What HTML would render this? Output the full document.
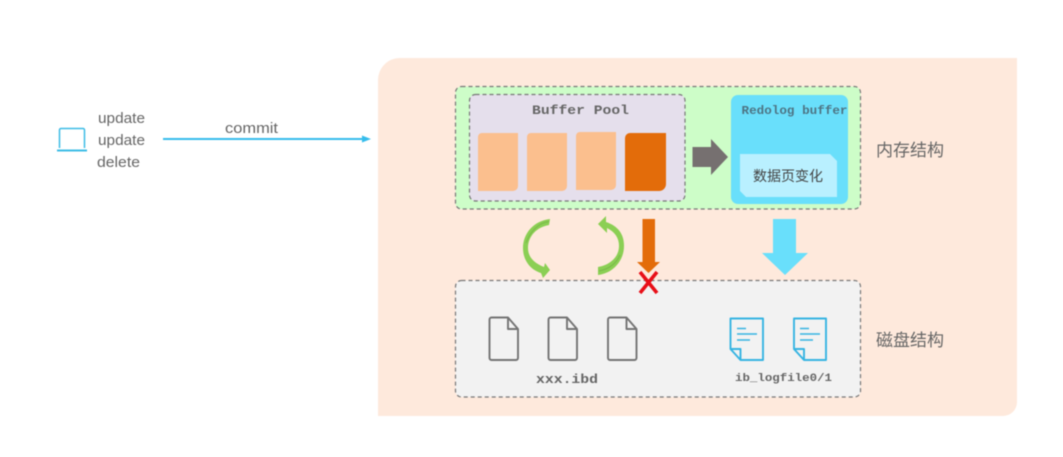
<!DOCTYPE html>
<html>
<head>
<meta charset="utf-8">
<style>
html,body{margin:0;padding:0;background:#fff;}
svg{display:block;filter:blur(0.45px);}
.s{font-family:"Liberation Sans","Noto Sans CJK SC",sans-serif;fill:#666;}
.m{font-family:"Liberation Mono",monospace;font-weight:bold;fill:#666;}
</style>
</head>
<body>
<svg width="1063" height="457" viewBox="0 0 1063 457" xmlns="http://www.w3.org/2000/svg">
<rect width="1063" height="457" fill="#fff"/>
<!-- panel -->
<path d="M378 416V80a22 22 0 0 1 22-22H1017V402a14 14 0 0 1-14 14Z" fill="#fee9dc"/>

<!-- left -->
<g fill="none" stroke="#3dbce6" stroke-width="1.500">
<path d="M59.500 148V130a1.500 1.500 0 0 1 1.500-1.500H83a1.500 1.500 0 0 1 1.500 1.500V148"/>
<path d="M57 150.500H87" stroke-width="2"/>
</g>
<text class="s" x="98" y="123" font-size="14.500" textLength="47" lengthAdjust="spacingAndGlyphs">update</text>
<text class="s" x="98" y="145" font-size="14.500" textLength="47" lengthAdjust="spacingAndGlyphs">update</text>
<text class="s" x="97" y="167" font-size="14.500" textLength="43" lengthAdjust="spacingAndGlyphs">delete</text>
<text class="s" x="225" y="133" font-size="14.500" textLength="53" lengthAdjust="spacingAndGlyphs">commit</text>
<path d="M163 139H364" stroke="#36bdec" stroke-width="2" fill="none"/>
<path d="M362 135.500L371 139L362 142.500Z" fill="#36bdec"/>

<!-- memory box -->
<rect x="455.500" y="86.500" width="405" height="122.500" rx="6" fill="#cdfdc8" stroke="#777" stroke-width="1.200" stroke-dasharray="4 3"/>
<rect x="469.500" y="94.500" width="215.500" height="106.500" rx="6" fill="#e5dfec" stroke="#777" stroke-width="1.200" stroke-dasharray="4 3"/>
<text class="m" x="532" y="114" font-size="13" textLength="97" lengthAdjust="spacingAndGlyphs">Buffer Pool</text>
<path d="M482 133H518V186a5 5 0 0 1-5 5H478V137a4 4 0 0 1 4-4Z" fill="#fbbf8e"/>
<path d="M531 133H567V186a5 5 0 0 1-5 5H527V137a4 4 0 0 1 4-4Z" fill="#fbbf8e"/>
<path d="M580 132H616V185a5 5 0 0 1-5 5H576V136a4 4 0 0 1 4-4Z" fill="#fbbf8e"/>
<path d="M630 133H666V184a7 7 0 0 1-7 7H625V138a5 5 0 0 1 5-5Z" fill="#e36c0a"/>
<path d="M692.500 147H711V139L728 157L711 175V167H692.500Z" fill="#767070"/>

<rect x="731" y="95" width="117" height="109" rx="7" fill="#69dffb"/>
<text class="m" x="741.500" y="114" font-size="11.500" textLength="106" lengthAdjust="spacingAndGlyphs" style="fill:#4d7484">Redolog buffer</text>
<path d="M740 154H830L837 161V197H746L740 191Z" fill="#b9f0ff"/>
<text x="788" y="181" font-size="14" text-anchor="middle" fill="#444" font-family="'Liberation Sans','Noto Sans CJK SC',sans-serif">数据页变化</text>

<text class="s" x="876" y="156" font-size="17" textLength="68">内存结构</text>

<!-- disk box -->
<rect x="455.500" y="280.500" width="405" height="116.500" rx="6" fill="#f2f2f2" stroke="#777" stroke-width="1.200" stroke-dasharray="4 3"/>
<text class="s" x="876" y="346" font-size="17" textLength="68">磁盘结构</text>

<!-- green arrows -->
<path d="M550 219C533 221 523 234 523 248C523 261 531 270 541 273L543 278L550 270L545 263L544 267C534 263 528 257 528 248C528 236 537 227 549 225Z" fill="#8bcf54"/>
<path d="M598 275C614 273 624 260 624 246C624 234 618 226 606 222L606 216L598 224L607 233L607 228C615 232 619 238 619 246C619 257 610 265 598 267Z" fill="#8bcf54"/>
<path d="M549 221.500C538 223 530 232 526 243" stroke="#6fa843" stroke-width="1" fill="none" opacity=".6"/>
<path d="M599 271C609 269 616 264 620 255" stroke="#6fa843" stroke-width="1" fill="none" opacity=".6"/>
<!-- orange arrow -->
<path d="M642.500 219H655V262H660L648.500 273L637 262H642.500Z" fill="#e36c0a"/>
<!-- red x -->
<path d="M640 272L657 293M657 272L640 293" stroke="#e80f18" stroke-width="3.600" fill="none"/>
<!-- blue arrow -->
<path d="M773 219H796V253H808L785 275L762 253H773Z" fill="#69dffb"/>

<!-- grey files -->
<g fill="none" stroke="#747474" stroke-width="1.900" stroke-linejoin="round">
<path d="M491.500 317.500H508L518 329V358a2 2 0 0 1-2 2H491.500a2 2 0 0 1-2-2V319.500a2 2 0 0 1 2-2ZM508 317.500V329H518"/>
<path d="M550.500 317.500H567L577 329V358a2 2 0 0 1-2 2H550.500a2 2 0 0 1-2-2V319.500a2 2 0 0 1 2-2ZM567 317.500V329H577"/>
<path d="M610 317.500H626.500L636.500 329V358a2 2 0 0 1-2 2H610a2 2 0 0 1-2-2V319.500a2 2 0 0 1 2-2ZM626.500 317.500V329H636.500"/>
</g>
<text class="m" x="536" y="383" font-size="12.500" textLength="62" lengthAdjust="spacingAndGlyphs">xxx.ibd</text>

<!-- blue files -->
<g fill="none" stroke="#36b4e2" stroke-width="1.900" stroke-linejoin="round">
<path d="M730.500 318.500H763V360H740.500L730.500 349ZM730.500 349H740.500V360"/>
<path d="M737 328.500H746M737 334H757M737 340H750" stroke-width="1.500"/>
<path d="M794 318.500H826V360H804L794 349ZM794 349H804V360"/>
<path d="M800 328.500H809M800 334H820M800 340H813" stroke-width="1.500"/>
</g>
<text class="m" x="735" y="381" font-size="11" textLength="97" lengthAdjust="spacingAndGlyphs">ib_logfile0/1</text>
</svg>
</body>
</html>
